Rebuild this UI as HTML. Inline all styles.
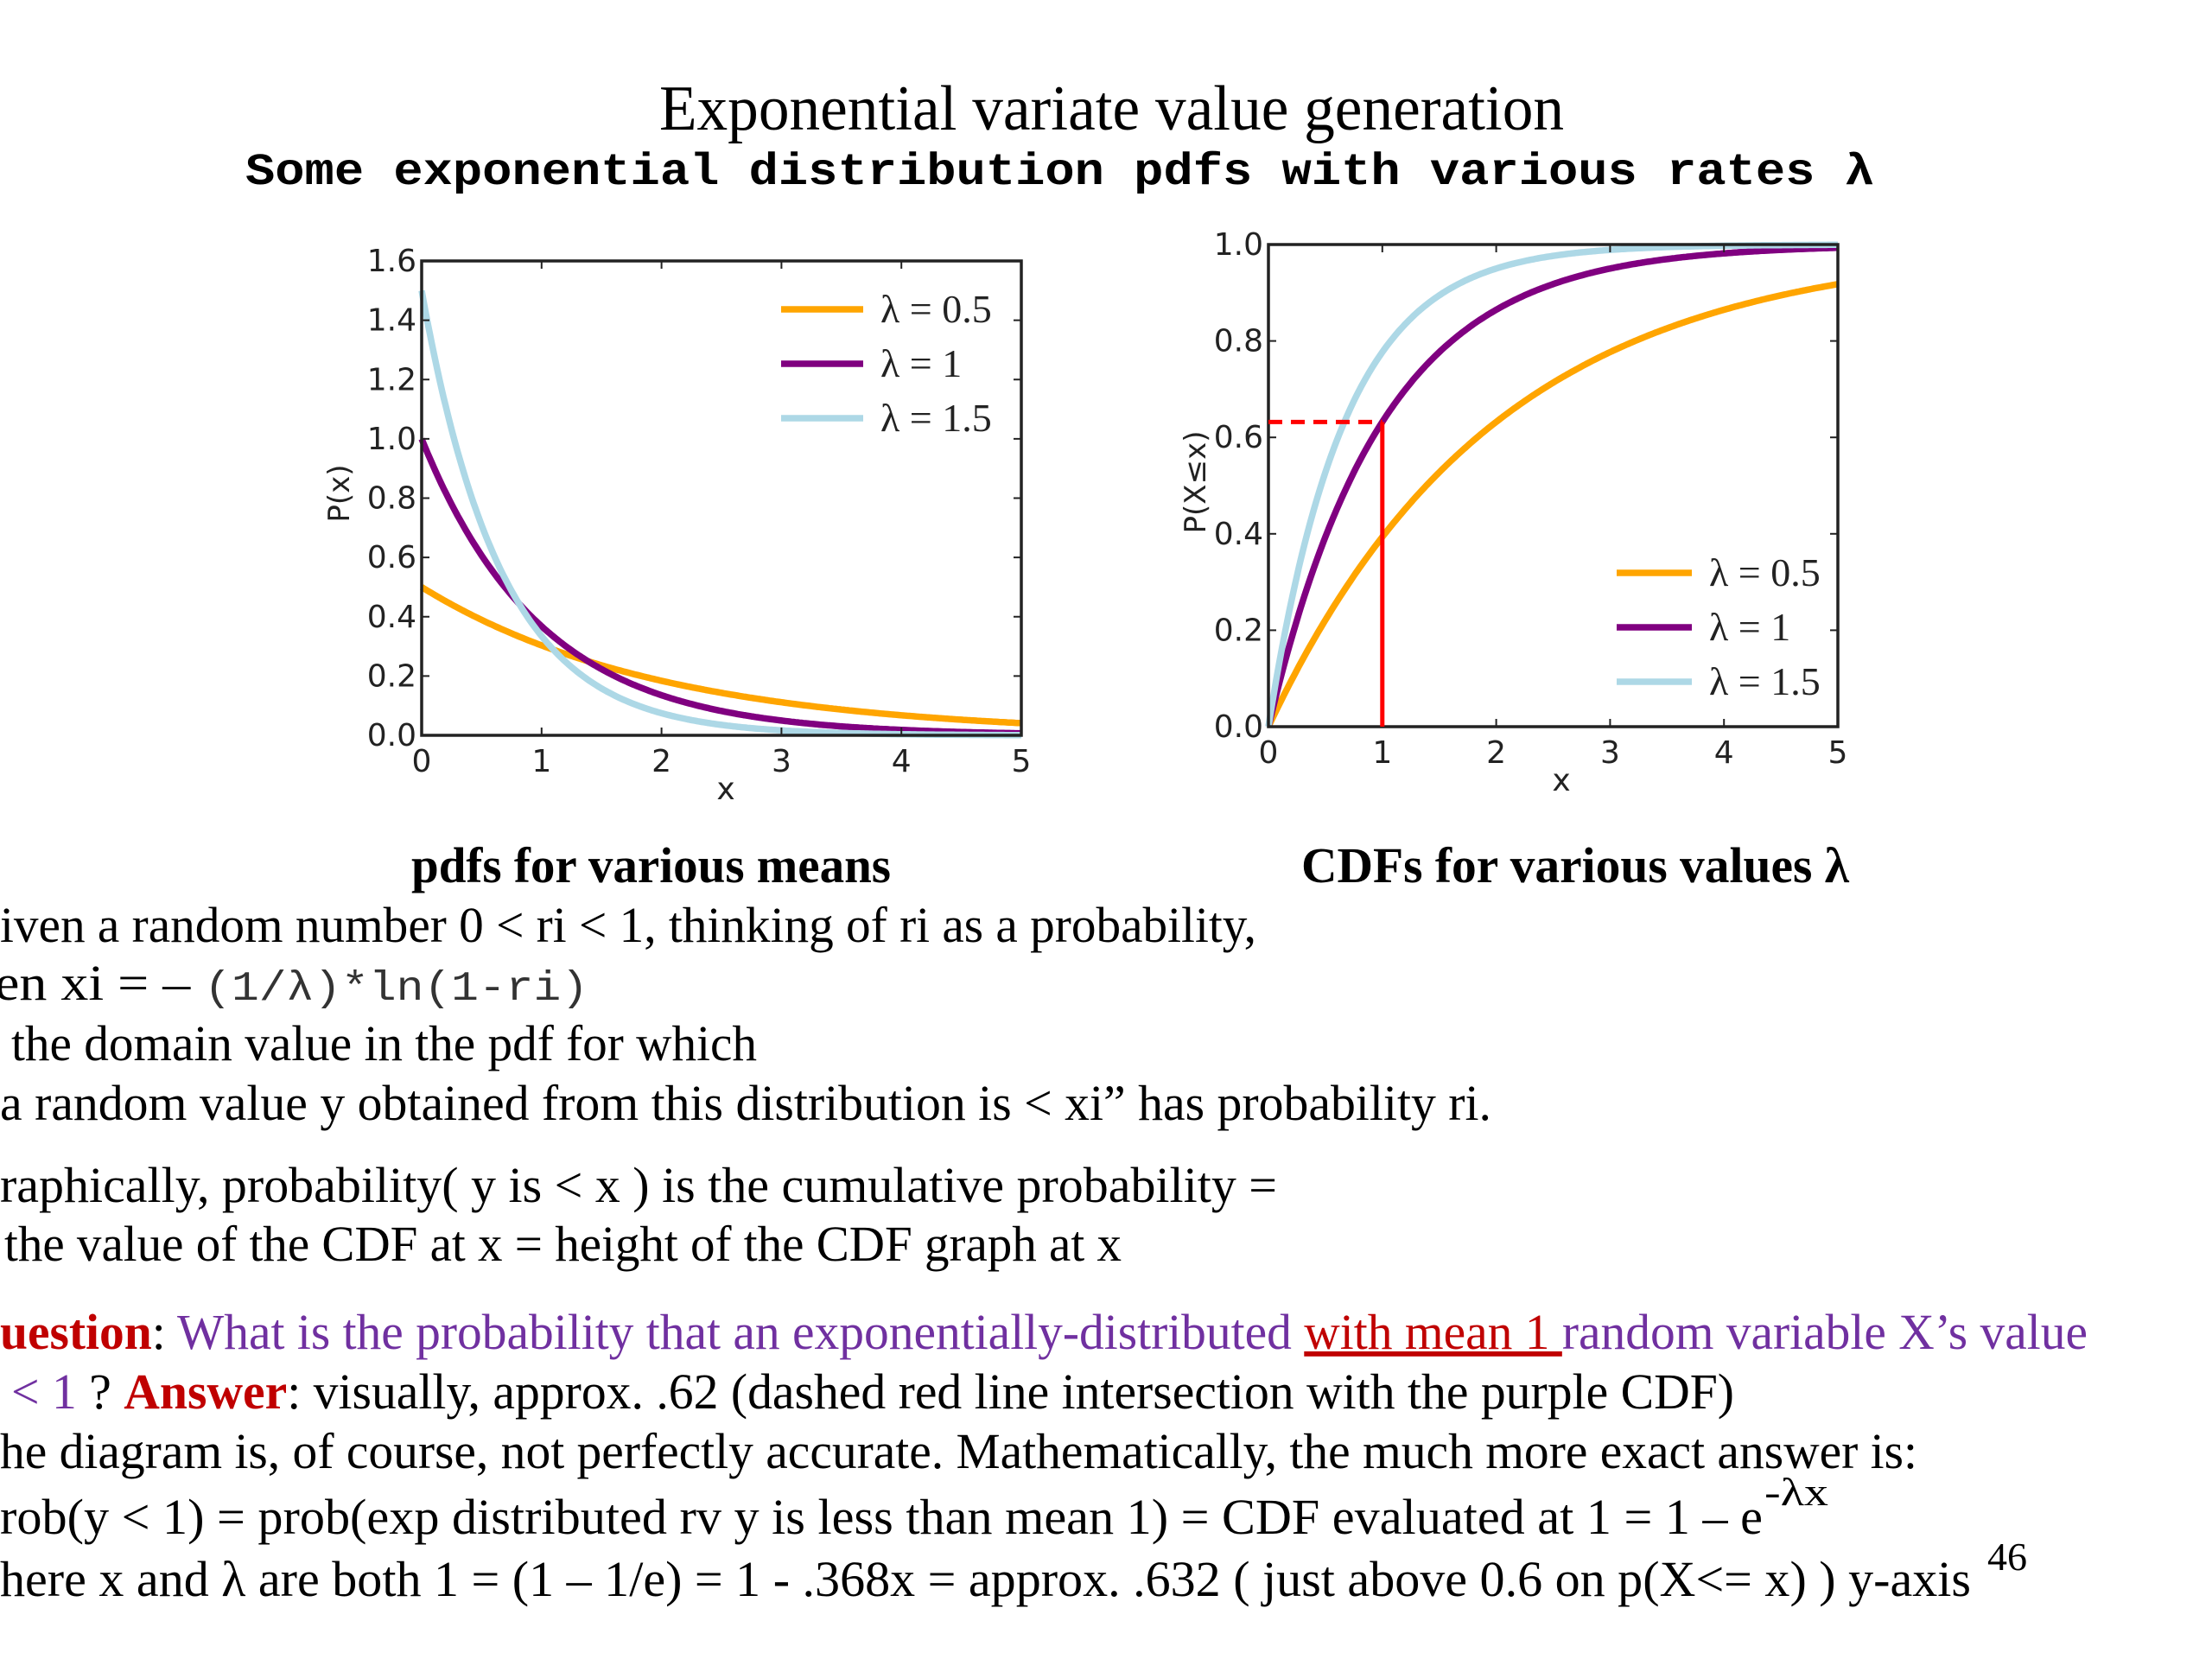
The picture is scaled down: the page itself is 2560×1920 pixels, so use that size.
<!DOCTYPE html>
<html><head><meta charset="utf-8"><style>
html,body{margin:0;padding:0;background:#fff;}
svg{display:block;}
.serif{font-family:"Liberation Serif",serif;}
.sans{font-family:"DejaVu Sans","Liberation Sans",sans-serif;}
</style></head><body>
<svg id="page" width="2560" height="1920" viewBox="0 0 2560 1920" xmlns="http://www.w3.org/2000/svg">
<rect width="2560" height="1920" fill="#fff"/>
<text class="serif" x="763" y="150" font-size="74" textLength="1047" lengthAdjust="spacingAndGlyphs">Exponential variate value generation</text>
<text x="284" y="213" font-size="52" font-weight="bold" font-family="Liberation Mono, monospace" textLength="1885" lengthAdjust="spacingAndGlyphs">Some exponential distribution pdfs with various rates λ</text>
<g id="pdf-chart"></g>
<g id="cdf-chart"></g>
<text class="serif" x="476" y="1021" font-size="58" font-weight="bold" textLength="555" lengthAdjust="spacingAndGlyphs">pdfs for various means</text>
<text class="serif" x="1506" y="1021" font-size="58" font-weight="bold" textLength="634" lengthAdjust="spacingAndGlyphs">CDFs for various values λ</text>
<g class="serif" font-size="58">
<text x="0" y="1090" textLength="1454" lengthAdjust="spacingAndGlyphs">iven a random number 0 &lt; ri &lt; 1, thinking of ri as a probability,</text>
<text x="-6" y="1157" textLength="687" lengthAdjust="spacingAndGlyphs">en xi = – <tspan font-family="Liberation Mono, monospace" font-size="48" fill="#333">(1/λ)*ln(1-ri)</tspan></text>
<text x="13" y="1227" textLength="863" lengthAdjust="spacingAndGlyphs">the domain value in the pdf for which</text>
<text x="0" y="1296" textLength="1726" lengthAdjust="spacingAndGlyphs">a random value y obtained from this distribution is &lt; xi”  has probability ri.</text>
<text x="0" y="1391" textLength="1478" lengthAdjust="spacingAndGlyphs">raphically,  probability( y is &lt; x ) is the cumulative probability =</text>
<text x="5" y="1459" textLength="1293" lengthAdjust="spacingAndGlyphs">the value of the CDF at x = height of the CDF graph at x</text>
<text x="0" y="1561" textLength="2416" lengthAdjust="spacingAndGlyphs"><tspan fill="#C00000" font-weight="bold">uestion</tspan>: <tspan fill="#7030A0">What is the probability that an exponentially-distributed </tspan><tspan fill="#C00000" text-decoration="underline">with mean 1 </tspan><tspan fill="#7030A0">random variable X’s value</tspan></text>
<text x="13" y="1630" textLength="1994" lengthAdjust="spacingAndGlyphs"><tspan fill="#7030A0">&lt; 1</tspan> ?  <tspan fill="#C00000" font-weight="bold">Answer</tspan>: visually, approx. .62 (dashed red line intersection with the purple CDF)</text>
<text x="0" y="1699" textLength="2219" lengthAdjust="spacingAndGlyphs">he diagram is, of course, not perfectly accurate. Mathematically, the much more exact answer is:</text>
<text x="0" y="1775" textLength="2040" lengthAdjust="spacingAndGlyphs">rob(y &lt; 1) = prob(exp distributed rv y is less than mean 1) = CDF evaluated at 1 =  1 – e</text>
<text x="2042" y="1742" font-size="46" textLength="74" lengthAdjust="spacingAndGlyphs">-λx</text>
<text x="0" y="1847" textLength="2281" lengthAdjust="spacingAndGlyphs">here  x and λ are both 1 = (1 – 1/e) = 1 - .368x = approx. .632 ( just above  0.6 on p(X&lt;= x) ) y-axis</text>
<text x="2300" y="1817" font-size="46">46</text>
</g>
</svg>
<script>
const lambdas = [0.5, 1, 1.5];
const seriesLabels = ["λ=0.5", "λ=1", "λ=1.5"];
const colors = ["#FFA500", "#800080", "#ADD8E6"];
const xTicks = [0, 1, 2, 3, 4, 5];
const pdfYTicks = ["0.0","0.2","0.4","0.6","0.8","1.0","1.2","1.4","1.6"];
const cdfYTicks = ["0.0","0.2","0.4","0.6","0.8","1.0"];
const markerX = 1;
const markerY = 0.632;

const NS = "http://www.w3.org/2000/svg";
function mk(parent, tag, attrs, text) {
  const e = document.createElementNS(NS, tag);
  for (const k in attrs) e.setAttribute(k, attrs[k]);
  if (text !== undefined) e.textContent = text;
  parent.appendChild(e);
  return e;
}
function drawChart(g, box, yMax, yTicks, fn, legendPos, ylabel, ylx, yly, xlx, xly) {
  const sx = v => box.x0 + (v - 0) / 5 * (box.x1 - box.x0);
  const sy = v => box.y0 - v / yMax * (box.y0 - box.y1);
  lambdas.forEach((lam, i) => {
    let d = "";
    for (let k = 0; k <= 300; k++) {
      const x = 5 * k / 300;
      d += (k ? "L" : "M") + sx(x).toFixed(1) + "," + sy(fn(lam, x)).toFixed(1);
    }
    const p = mk(g, "path", {d: d, fill: "none", stroke: colors[i], "stroke-width": 7.5, "stroke-linejoin": "round"});
    
    
  });
  const f = mk(g, "rect", {x: box.x0, y: box.y1, width: box.x1 - box.x0, height: box.y0 - box.y1, fill: "none", stroke: "#222", "stroke-width": 3.5});
  
  
  xTicks.forEach(t => {
    const x = sx(t);
    mk(g, "line", {x1: x, x2: x, y1: box.y0, y2: box.y0 - 9, stroke: "#222", "stroke-width": 2});
    mk(g, "line", {x1: x, x2: x, y1: box.y1, y2: box.y1 + 9, stroke: "#222", "stroke-width": 2});
    const tl = mk(g, "text", {x: x, y: box.y0 + 42, "font-size": 36, "text-anchor": "middle", class: "sans", fill: "#222"}, String(t));
    
    
  });
  yTicks.forEach(t => {
    const y = sy(parseFloat(t));
    mk(g, "line", {x1: box.x0, x2: box.x0 + 9, y1: y, y2: y, stroke: "#222", "stroke-width": 2});
    mk(g, "line", {x1: box.x1, x2: box.x1 - 9, y1: y, y2: y, stroke: "#222", "stroke-width": 2});
    const tl = mk(g, "text", {x: box.x0 - 6, y: y + 12, "font-size": 36, "text-anchor": "end", class: "sans", fill: "#222"}, t);
    
    
  });
  const xl = mk(g, "text", {x: xlx, y: xly, "font-size": 36, "text-anchor": "middle", class: "sans", fill: "#222"}, "x");
  
  
  const yl = mk(g, "text", {x: ylx, y: yly, "font-size": 34, "text-anchor": "middle", class: "sans", fill: "#222", transform: "rotate(-90 " + ylx + " " + yly + ")"}, ylabel);
  
  
  seriesLabels.forEach((lab, i) => {
    const y = legendPos.y + i * legendPos.dy;
    const ln = mk(g, "line", {x1: legendPos.x, x2: legendPos.x + legendPos.w, y1: y, y2: y, stroke: colors[i], "stroke-width": 7.5});
    
    
    const tx = mk(g, "text", {x: legendPos.x + legendPos.w + 20, y: y + 15, "font-size": 46, class: "serif", fill: "#222", "word-spacing": 0}, lab.replace("=", " = "));
    
    
  });
  return {sx, sy};
}
const pdfG = document.getElementById("pdf-chart");
drawChart(pdfG, {x0: 488, x1: 1182, y0: 851, y1: 302}, 1.6, pdfYTicks,
  (l, x) => l * Math.exp(-l * x), {x: 904, y: 358, dy: 63, w: 95}, "P(x)", 404, 571, 840, 925);
const cdfG = document.getElementById("cdf-chart");
const s = drawChart(cdfG, {x0: 1468, x1: 2127, y0: 841, y1: 283}, 1.0, cdfYTicks,
  (l, x) => 1 - Math.exp(-l * x), {x: 1871, y: 663, dy: 63, w: 87}, "P(X≤x)", 1395, 558, 1807, 915);
const dash = mk(cdfG, "line", {x1: s.sx(0), x2: s.sx(markerX), y1: s.sy(markerY), y2: s.sy(markerY), stroke: "#FF0000", "stroke-width": 5, "stroke-dasharray": "16,10"});


const vert = mk(cdfG, "line", {x1: s.sx(markerX), x2: s.sx(markerX), y1: s.sy(0), y2: s.sy(markerY), stroke: "#FF0000", "stroke-width": 5});


</script>
</body></html>
